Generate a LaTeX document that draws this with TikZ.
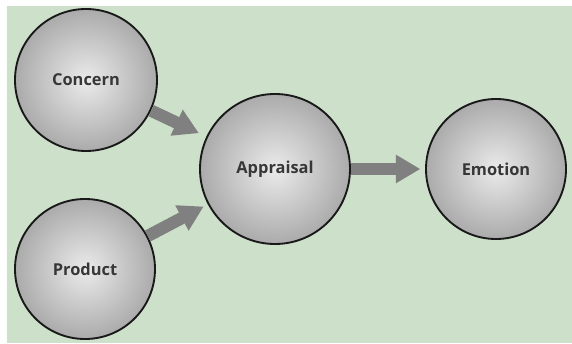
\documentclass[tikz,border=0pt]{standalone}
\usepackage{fontspec}
\setmainfont{Open Sans}
\usepackage{tikz}
\usetikzlibrary{arrows.meta, positioning}

\definecolor{bggreen}{RGB}{205,224,202}
\definecolor{flowgray}{RGB}{128,128,128}
\definecolor{textgray}{RGB}{55,55,55}

\begin{document}
\begin{tikzpicture}[
    x=0.03cm, y=-0.03cm,
    ball/.style={circle, draw=black!90, line width=1.6pt, inner color=gray!16, outer color=gray!66, text=textgray, font=\fontsize{14}{16}\selectfont\bfseries},
    flow/.style={-{Triangle[length=21pt, width=23pt]}, line width=10.5pt, flowgray}
]

% === Background ===
\useasboundingbox (0,0) rectangle (572,343);
\fill[bggreen] (7,6) rectangle (572,343);

% === Nodes ===
\node[ball, minimum size=4.26cm] (concern) at (86,80) {Concern};
\node[ball, minimum size=4.2cm] (product) at (85,269) {Product};
\node[ball, minimum size=4.5cm] (appraisal) at (275,169) {Appraisal};
\node[ball, minimum size=4.2cm] (emotion) at (496,169) {Emotion};

% === Arrows ===
\draw[flow, shorten >=7pt] (concern) -- (appraisal);
\draw[flow, shorten >=4pt] (product) -- (appraisal);
\draw[flow, shorten >=4pt] (appraisal) -- (emotion);

\end{tikzpicture}
\end{document}
